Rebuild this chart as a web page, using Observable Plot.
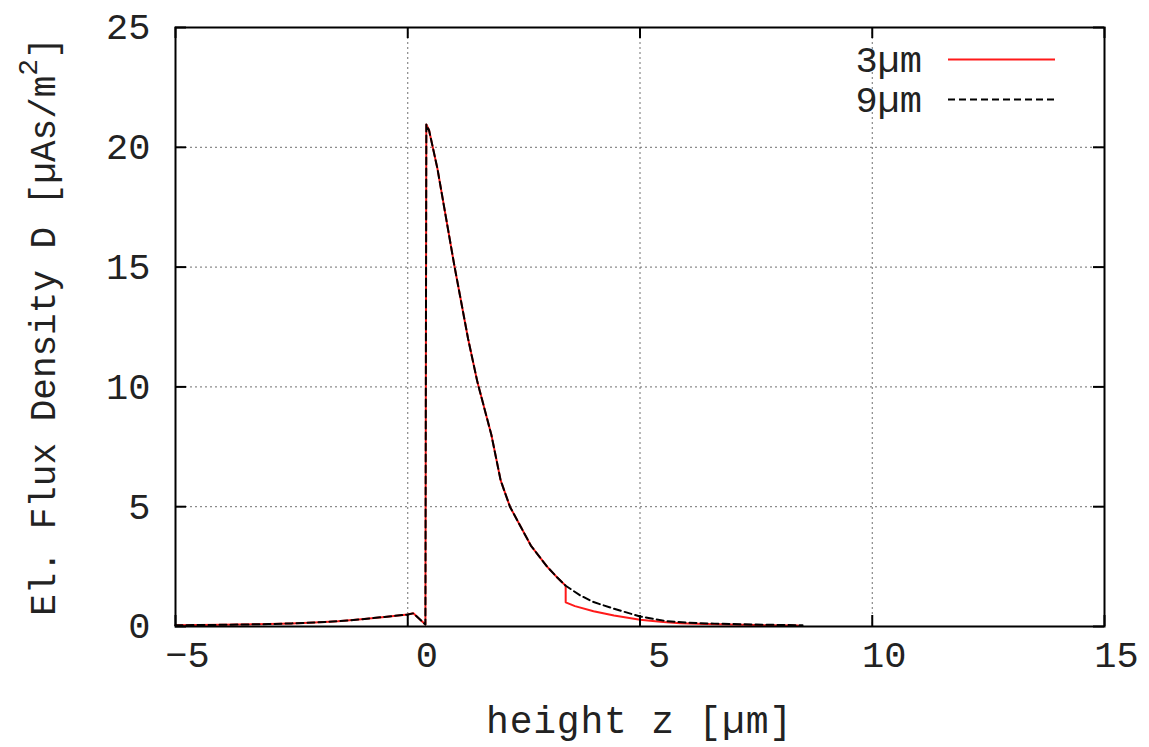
<!DOCTYPE html>
<html><head><meta charset="utf-8">
<script src="https://cdn.jsdelivr.net/npm/d3@7"></script>
<script src="https://cdn.jsdelivr.net/npm/@observablehq/plot@0.6"></script>
<style>body{margin:0;background:#fff} #chart{width:1149px;height:747px}</style>
</head><body><div id="chart"></div>
<script>
// ---- data ----
const seriesNames = ["3µm", "9µm"];
const xTicks = [-5, 0, 5, 10, 15];
const yTicks = [0, 5, 10, 15, 20, 25];
const gridX = [0, 5, 10];
const gridY = [5, 10, 15, 20];
// common part of both curves
const zShared = [-5, -4, -3, -2.5, -2, -1.5, -1, -0.5, 0, 0.12, 0.38, 0.40, 0.46, 0.64, 1.0, 1.3, 1.5, 1.8, 2.0, 2.2, 2.45, 2.65, 3.0, 3.2, 3.4];
const dShared = [0.05, 0.07, 0.1, 0.13, 0.17, 0.22, 0.3, 0.4, 0.5, 0.55, 0.08, 20.95, 20.7, 19.1, 15.1, 12.0, 10.2, 8.0, 6.1, 5.0, 4.1, 3.38, 2.5, 2.08, 1.7];
// 3 µm tail
const z3 = [3.4, 3.6, 4.0, 4.44, 5.0, 5.5, 5.87, 6.4, 6.9, 7.5, 8.4];
const d3v = [1.01, 0.85, 0.64, 0.46, 0.28, 0.19, 0.14, 0.1, 0.08, 0.06, 0.04];
// 9 µm tail
const z9 = [3.72, 4.0, 4.44, 5.0, 5.58, 6.0, 6.6, 7.5, 8.5];
const d9v = [1.29, 1.02, 0.74, 0.42, 0.22, 0.16, 0.12, 0.08, 0.05];

const toRows = (zs, ds) => zs.map((z, i) => ({z, D: ds[i]}));
const series3 = toRows(zShared, dShared).concat(toRows(z3, d3v));
const series9 = toRows(zShared, dShared).concat(toRows(z9, d9v));

// ---- layout ----
const W = 1149, H = 747, mL = 175, mR = 45, mT = 27, mB = 121;
const fw = W - mL - mR, fh = H - mT - mB;
const font = "'Liberation Mono', 'Courier New', monospace";
const tickLen = 11;
const ink = "#222";

const plot = Plot.plot({
  width: W, height: H,
  marginLeft: mL, marginRight: mR, marginTop: mT, marginBottom: mB,
  style: {background: "white", fontFamily: font, color: "black"},
  x: {domain: [-5, 15], axis: null},
  y: {domain: [0, 25], axis: null},
  marks: [
    Plot.ruleX(gridX, {x: d => d, stroke: "#707070", strokeWidth: 1, strokeDasharray: "2,3"}),
    Plot.ruleY(gridY, {y: d => d, stroke: "#707070", strokeWidth: 1, strokeDasharray: "2,3"}),
    Plot.line(series3, {x: "z", y: "D", stroke: "#ff1a1a", strokeWidth: 2}),
    Plot.line(series9, {x: "z", y: "D", stroke: "black", strokeWidth: 2, strokeDasharray: "7,4"}),
    Plot.tickX(xTicks, {x: d => d, insetTop: fh - tickLen, stroke: "black", strokeWidth: 2}),
    Plot.tickX(xTicks, {x: d => d, insetBottom: fh - tickLen, stroke: "black", strokeWidth: 2}),
    Plot.tickY(yTicks, {y: d => d, insetRight: fw - tickLen, stroke: "black", strokeWidth: 2}),
    Plot.tickY(yTicks, {y: d => d, insetLeft: fw - tickLen, stroke: "black", strokeWidth: 2}),
    Plot.frame({stroke: "black", strokeWidth: 2}),
    // x tick labels (the reference sets them slightly right of their ticks)
    Plot.text(xTicks.filter(d => String(d).length === 1), {x: d => d, text: d => String(d), frameAnchor: "bottom", dy: 40, dx: 19, fontSize: 37, fill: ink}),
    Plot.text(xTicks.filter(d => String(d).length !== 1), {x: d => d, text: d => String(d).replace("-", "\u2212"), frameAnchor: "bottom", dy: 40, dx: 12, fontSize: 37, fill: ink, letterSpacing: 2}),
    Plot.text(yTicks, {y: d => d, text: d => String(d), frameAnchor: "left", dx: -25, textAnchor: "end", fontSize: 37, fill: ink})
  ]
});

document.getElementById("chart").appendChild(plot);

// ---- axis titles and legend ----
const svg = d3.select(plot);
const yt = svg.append("text")
  .attr("transform", `translate(45,${mT + fh / 2}) rotate(-90)`)
  .attr("text-anchor", "middle").attr("dominant-baseline", "middle")
  .attr("font-family", font).attr("font-size", 36).attr("fill", ink);
yt.append("tspan").text("El. Flux Density D [µAs/m");
yt.append("tspan").attr("baseline-shift", "super").attr("font-size", 28).text("2");
yt.append("tspan").text("]");

svg.append("text")
  .attr("x", mL + fw / 2).attr("y", 733)
  .attr("text-anchor", "middle")
  .attr("font-family", font).attr("font-size", 38).attr("letter-spacing", 0.8).attr("fill", ink)
  .text("height z [µm]");

const legendStyles = [
  {stroke: "#ff1a1a", dash: null},
  {stroke: "black", dash: "7,4"}
];
seriesNames.forEach((name, i) => {
  const yb = 72 + i * 40;
  svg.append("text")
    .attr("x", 922).attr("y", yb)
    .attr("text-anchor", "end")
    .attr("font-family", font).attr("font-size", 37).attr("fill", ink)
    .text(name);
  const ln = svg.append("line")
    .attr("x1", 948).attr("x2", 1055)
    .attr("y1", yb - 12.5).attr("y2", yb - 12.5)
    .attr("stroke", legendStyles[i].stroke).attr("stroke-width", 2);
  if (legendStyles[i].dash) ln.attr("stroke-dasharray", legendStyles[i].dash);
});
</script>
</body></html>
